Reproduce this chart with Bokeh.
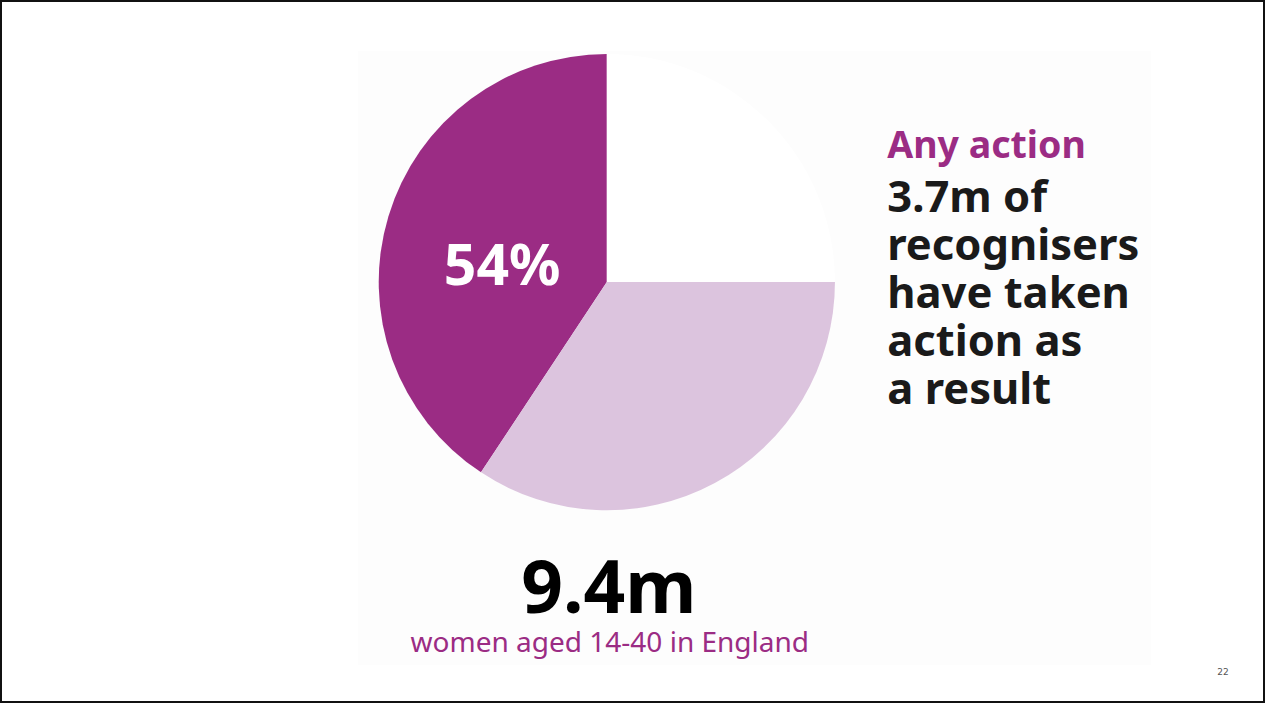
import math
from bokeh.plotting import figure
from bokeh.models import Range1d, ColumnDataSource
from bokeh.core.properties import value
from bokeh.embed import file_html
from bokeh.resources import INLINE

# ---- data ----
segments = ["Recognisers who took action", "Recognisers who took no action", "Did not recognise"]
shares = [40.7, 34.3, 25.0]
seg_colors = ["#9B2C84", "#DCC4DE", "#FFFFFF"]
pct_label = "54%"
headline = "Any action"
body_lines = ["3.7m of", "recognisers", "have taken", "action as", "a result"]
total_label = "9.4m"
total_caption = "women aged 14-40 in England"
page_number = "22"

W, H = 1265, 703
REF_W, REF_H = 1281, 719
KY = H / REF_H

def Y(py):
    return REF_H - py

def TY(baseline, fs):
    # text baseline correction (renderer places glyph ~0.4em below anchor)
    return Y(baseline - 0.4 * fs / KY)

p = figure(width=W, height=H, output_backend="svg", toolbar_location=None,
           x_range=Range1d(0, REF_W), y_range=Range1d(0, REF_H),
           x_axis_location=None, y_axis_location=None, min_border=0)
p.grid.visible = False
p.background_fill_color = "white"
p.border_fill_color = "white"
p.outline_line_color = "#111111"
p.outline_line_width = 3

# faint backdrop panel
p.quad(left=[362], right=[1165], top=[Y(52)], bottom=[Y(680)],
       fill_color="#FDFDFD", line_color=None)

# pie
total = sum(shares)
starts, ends = [], []
acc = 0.0
for s in shares:
    starts.append(math.pi / 2 + 2 * math.pi * acc / total)
    acc += s
    ends.append(math.pi / 2 + 2 * math.pi * acc / total)
src = ColumnDataSource(dict(seg=segments, share=shares, start=starts, end=ends, color=seg_colors))
p.wedge(x=614, y=Y(288), radius=231, start_angle="start", end_angle="end",
        fill_color="color", line_color=None, source=src)

# labels
fs = 57
p.text(x=[508], y=[TY(292, fs)], text=[pct_label], text_color="white",
       text_font=value("Noto Sans"), text_font_style="bold", text_font_size=f"{fs}px",
       text_align="center", text_baseline="alphabetic")

fs = 37.5
p.text(x=[898], y=[TY(162, fs)], text=[headline], text_color="#9B2C84",
       text_font=value("Noto Sans"), text_font_style="bold", text_font_size=f"{fs}px",
       text_align="left", text_baseline="alphabetic")

fs = 43.5
base = 217
step = 49
p.text(x=[898] * len(body_lines), y=[TY(base + i * step, fs) for i in range(len(body_lines))],
       text=body_lines, text_color="#1A1A1A",
       text_font=value("Noto Sans"), text_font_style="bold", text_font_size=f"{fs}px",
       text_align="left", text_baseline="alphabetic")

fs = 73
p.text(x=[616], y=[TY(627, fs)], text=[total_label], text_color="#000000",
       text_font=value("Noto Sans"), text_font_style="bold", text_font_size=f"{fs}px",
       text_align="center", text_baseline="alphabetic")

fs = 28
p.text(x=[617], y=[TY(667, fs)], text=[total_caption], text_color="#9B2C84",
       text_font=value("Noto Sans"), text_font_size=f"{fs}px",
       text_align="center", text_baseline="alphabetic")

fs = 9
p.text(x=[1238], y=[TY(690, fs)], text=[page_number], text_color="#555555",
       text_font=value("DejaVu Sans"), text_font_size=f"{fs}px",
       text_align="center", text_baseline="alphabetic")

open("out.html", "w").write(file_html(p, INLINE))
